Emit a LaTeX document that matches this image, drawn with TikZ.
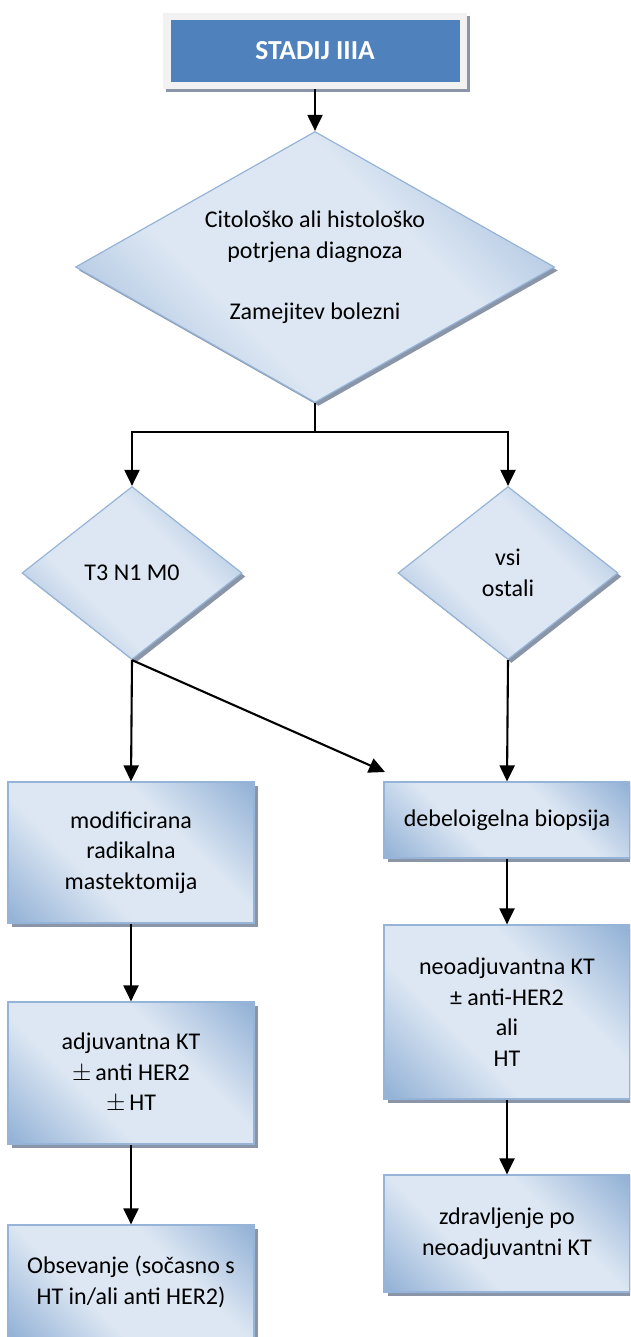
\documentclass[tikz,border=0pt]{standalone}
\usepackage{fontspec}
\setmainfont{Carlito}
\usetikzlibrary{shapes,arrows.meta,shadows,positioning}
\definecolor{bxLight}{RGB}{221,231,243}
\definecolor{bxDark}{RGB}{149,179,215}
\definecolor{bxLine}{RGB}{150,180,216}
\definecolor{bxShadow}{RGB}{138,150,168}
\definecolor{stageBlue}{RGB}{79,129,189}
\definecolor{stageFrame}{RGB}{242,242,242}
\pgfdeclarehorizontalshading{boxShade}{100bp}{color(0bp)=(bxDark); color(16bp)=(bxDark); color(38bp)=(bxLight); color(62bp)=(bxLight); color(84bp)=(bxDark); color(100bp)=(bxDark)}

\tikzset{
  flowbox/.style={rectangle, draw=bxLine, line width=1.2pt, shade, shading=boxShade, shading angle=45,
    drop shadow={shadow xshift=3.5pt, shadow yshift=-3.5pt, fill=bxShadow, opacity=1},
    align=center, inner sep=0pt, minimum width=246pt},
  flowdiam/.style={flowbox, diamond, minimum width=220pt, minimum height=173pt, aspect=1.27},
  arr/.style={line width=2.1pt, -{Triangle[length=16pt,width=15pt]}}
}

\begin{document}
\begin{tikzpicture}[x=1pt,y=-1pt,every node/.style={font=\fontsize{24}{30.5}\selectfont}]

      \useasboundingbox (0,0) rectangle (630,1337);
      \clip (0,0) rectangle (630,1337);

      % draw the stage header
      \node[fill=stageFrame, minimum width=304pt, minimum height=76pt,
        drop shadow={shadow xshift=3pt, shadow yshift=-3pt, fill=bxShadow, opacity=1}] (stageFrame) at (315,51) {};
      \node[fill=stageBlue, minimum width=289pt, minimum height=62pt, text=white,
        font=\fontsize{27.5}{30}\selectfont\bfseries] (stage) at (315,51) {STADIJ IIIA};

      % draw the decisions
      \node[flowdiam, minimum width=479pt, minimum height=271pt, aspect=1.77] (diag) at (315,267)
        {Citološko ali histološko\\potrjena diagnoza\\[30.5pt]Zamejitev bolezni};
      \node[flowdiam] (t3) at (132,573) {T3 N1 M0};
      \node[flowdiam] (rest) at (508,573) {vsi\\ostali};

      % draw the treatment boxes
      \node[flowbox, minimum height=141pt] (mrm) at (131,852.5) {modificirana\\radikalna\\mastektomija};
      \node[flowbox, minimum height=142pt] (adj) at (131,1073) {adjuvantna KT\\$\pm$\,anti HER2\\$\pm$\,HT};
      \node[flowbox, minimum height=114pt] (obs) at (131,1282) {Obsevanje (sočasno s\\HT in/ali anti HER2)};
      \node[flowbox, minimum height=76pt] (biopsy) at (507,820) {debeloigelna biopsija};
      \node[flowbox, minimum height=174pt] (neo) at (507,1012) {neoadjuvantna KT\\± anti-HER2\\ali\\HT};
      \node[flowbox, minimum height=117pt] (zdr) at (507,1233.5) {zdravljenje po\\neoadjuvantni KT};

      % draw the arrows
      \draw[arr] (stageFrame.south) -- (diag.north);
      \coordinate (split) at (315,432);
      \draw[line width=2.1pt] (diag.south) -- (split);
      \draw[arr] (split) -| (t3.north);
      \draw[arr] (split) -| (rest.north);
      \coordinate (crossEnd) at (385,772);
      \draw[arr] (t3.south) -- (crossEnd);
      \foreach \a/\b in {t3/mrm, mrm/adj, adj/obs, rest/biopsy, biopsy/neo, neo/zdr}
        \draw[arr] (\a.south) -- (\b.north);

\end{tikzpicture}
\end{document}
